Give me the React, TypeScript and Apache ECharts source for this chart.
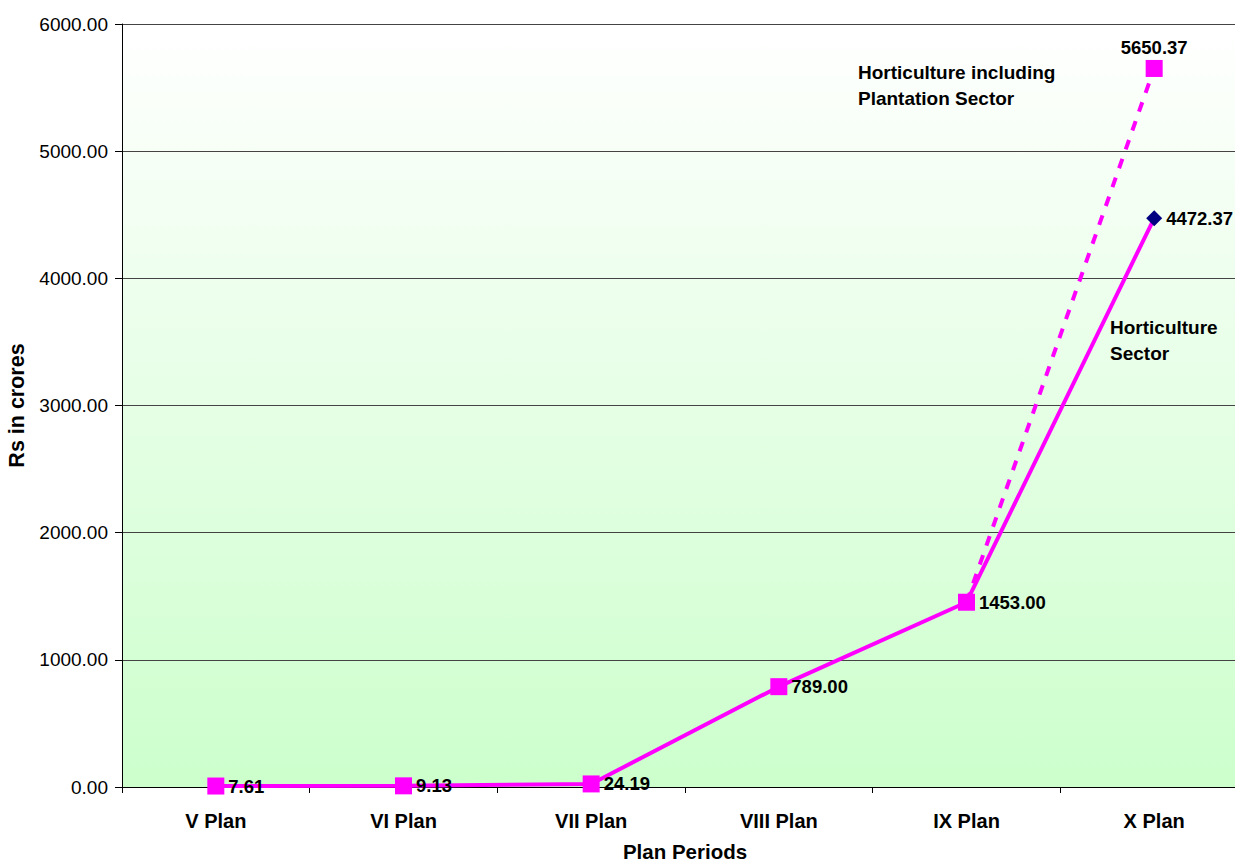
import React, { useEffect, useRef } from "react";
import * as echarts from "echarts";

const planPeriods = ["V Plan", "VI Plan", "VII Plan", "VIII Plan", "IX Plan", "X Plan"];
const horticultureSector = [7.61, 9.13, 24.19, 789.0, 1453.0, 4472.37];
const withPlantation = [null, null, null, null, 1453.0, 5650.37];
const yTicks = { min: 0, max: 6000, interval: 1000 };

const FONT = "'Liberation Sans', Arial, sans-serif";
const MAGENTA = "#ff00ff";

export default function App() {
  const ref = useRef<HTMLDivElement>(null);

  useEffect(() => {
    if (!ref.current) return;
    const chart = echarts.init(ref.current, null, { renderer: "svg" });
    const lastIdx = horticultureSector.length - 1;

    chart.setOption({
      animation: false,
      textStyle: { fontFamily: FONT },
      grid: {
        left: 122,
        right: -13,
        top: 24,
        bottom: 78,
        outerBoundsMode: "none",
        containLabel: false,
        show: true,
        borderWidth: 0,
        backgroundColor: new echarts.graphic.LinearGradient(0, 0, 0, 1, [
          { offset: 0, color: "#ffffff" },
          { offset: 1, color: "#ccffcc" },
        ]),
      },
      xAxis: {
        type: "category",
        data: planPeriods,
        boundaryGap: true,
        name: "Plan Periods",
        nameLocation: "middle",
        nameGap: 54,
        nameTextStyle: { fontFamily: FONT, fontWeight: "bold", fontSize: 20.5, color: "#000" },
        axisLine: { lineStyle: { color: "#000", width: 1 } },
        axisTick: { show: true, alignWithLabel: false, length: 6, lineStyle: { color: "#000" } },
        axisLabel: { fontFamily: FONT, fontWeight: "bold", fontSize: 20, color: "#000", margin: 24 },
        splitLine: { show: false },
      },
      yAxis: {
        type: "value",
        min: yTicks.min,
        max: yTicks.max,
        interval: yTicks.interval,
        name: "Rs in crores",
        nameLocation: "middle",
        nameGap: 90,
        nameRotate: 90,
        nameTextStyle: { fontFamily: FONT, fontWeight: "bold", fontSize: 21.5, color: "#000" },
        axisLine: { show: true, lineStyle: { color: "#000", width: 1 } },
        axisTick: { show: true, length: 7, lineStyle: { color: "#000" } },
        axisLabel: {
          fontFamily: FONT,
          fontSize: 19,
          color: "#000",
          margin: 14,
          formatter: (v: number) => v.toFixed(2),
        },
        splitLine: { show: true, lineStyle: { color: "#444", width: 1 } },
      },
      series: [
        {
          name: "Horticulture including Plantation Sector",
          type: "line",
          data: withPlantation.map((v, i) =>
            i === lastIdx
              ? { value: v, symbol: "rect", symbolSize: 17, label: { show: true } }
              : { value: v, symbol: "none", label: { show: false } }
          ),
          connectNulls: false,
          lineStyle: { color: MAGENTA, width: 4, type: [10, 10] },
          itemStyle: { color: MAGENTA },
          label: {
            position: "top",
            distance: 3,
            fontFamily: FONT,
            fontWeight: "bold",
            fontSize: 18.5,
            color: "#000",
            formatter: (p: any) => Number(p.value).toFixed(2),
          },
          z: 2,
        },
        {
          name: "Horticulture Sector",
          type: "line",
          data: horticultureSector.map((v, i) =>
            i === lastIdx
              ? { value: v, symbol: "diamond", symbolSize: 16, itemStyle: { color: "#000080" } }
              : { value: v }
          ),
          symbol: "rect",
          symbolSize: 17,
          lineStyle: { color: MAGENTA, width: 4 },
          itemStyle: { color: MAGENTA },
          label: {
            show: true,
            position: "right",
            distance: 4,
            fontFamily: FONT,
            fontWeight: "bold",
            fontSize: 18.5,
            color: "#000",
            formatter: (p: any) => Number(p.value).toFixed(2),
          },
          z: 3,
        },
      ],
      graphic: [
        {
          type: "text",
          left: 858,
          top: 59,
          style: {
            text: "Horticulture including\nPlantation Sector",
            fontFamily: FONT,
            fontWeight: "bold",
            fontSize: 19,
            lineHeight: 26,
            fill: "#000",
          },
        },
        {
          type: "text",
          left: 1110,
          top: 314,
          style: {
            text: "Horticulture\nSector",
            fontFamily: FONT,
            fontWeight: "bold",
            fontSize: 19,
            lineHeight: 26,
            fill: "#000",
          },
        },
      ],
    });

    return () => chart.dispose();
  }, []);

  return (
    <div
      ref={ref}
      style={{ position: "absolute", left: 0, top: 0, width: 1235, height: 865 }}
    />
  );
}
